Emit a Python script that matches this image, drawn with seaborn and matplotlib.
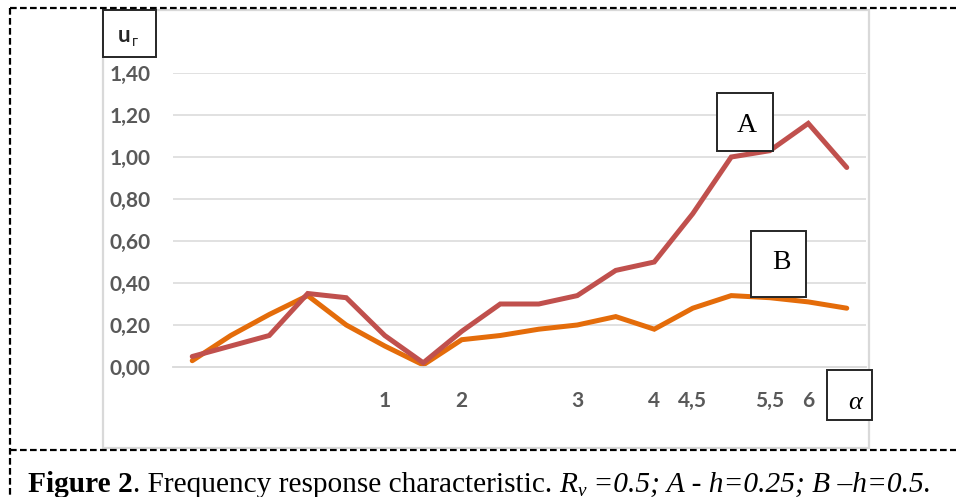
import matplotlib
matplotlib.use("Agg")
import matplotlib.pyplot as plt
from matplotlib.patches import Rectangle
from matplotlib.lines import Line2D
import seaborn as sns
import pandas as pd

# ---- data ----
x_labels = ['', '', '', '', '', '1', '', '2', '', '', '3', '', '4', '4,5', '', '5,5', '6', '']
series_a = [0.05, 0.10, 0.15, 0.35, 0.33, 0.15, 0.02, 0.17, 0.30, 0.30, 0.34, 0.46, 0.50, 0.73, 1.00, 1.03, 1.16, 0.95]
series_b = [0.03, 0.15, 0.25, 0.34, 0.20, 0.10, 0.01, 0.13, 0.15, 0.18, 0.20, 0.24, 0.18, 0.28, 0.34, 0.33, 0.31, 0.28]
y_ticks = [0.0, 0.2, 0.4, 0.6, 0.8, 1.0, 1.2, 1.4]
y_tick_labels = ['0,00', '0,20', '0,40', '0,60', '0,80', '1,00', '1,20', '1,40']
series_names = ['B', 'A']
colors = {'A': '#C0504D', 'B': '#E46C0A'}

sns.set_theme(style="white")
plt.rcParams['font.family'] = ['Lato', 'DejaVu Sans']

W, H = 956, 497
fig = plt.figure(figsize=(W / 100, H / 100), dpi=100)


def fx(x):
    return x / W


def fy(y):
    return 1 - y / H


# chart area frame (gray), drawn below the axes
fig.patches.append(Rectangle((fx(103), fy(448)), fx(869) - fx(103), fy(10) - fy(448),
                             transform=fig.transFigure, facecolor='white',
                             edgecolor='#D9D9D9', lw=1.6, zorder=-5))

ax = fig.add_axes([fx(173), fy(367), fx(866) - fx(173), fy(73) - fy(367)])
ax.set_facecolor('none')

n = len(x_labels)
df = pd.DataFrame({
    'x': list(range(n)) * 2,
    'u': series_b + series_a,
    'series': ['B'] * n + ['A'] * n,
})
sns.lineplot(data=df, x='x', y='u', hue='series', hue_order=series_names,
             palette=colors, linewidth=3.6, legend=False, ax=ax,
             solid_capstyle='round', solid_joinstyle='miter')
for ln in ax.lines:
    ln.set_clip_on(False)

ax.set_xlim(-0.5, n - 0.5)
ax.set_ylim(0, 1.4)
ax.set_yticks(y_ticks)
ax.set_yticklabels(y_tick_labels)
ax.set_xticks(range(n))
ax.set_xticklabels(x_labels)
ax.set_xticks([i - 0.5 for i in range(n + 1)], minor=True)
ax.tick_params(axis='x', which='major', length=0, pad=17, labelsize=15,
               labelcolor='#595959')
ax.tick_params(axis='x', which='minor', length=6, width=1.3, color='#D9D9D9', direction='out')
ax.tick_params(axis='y', length=0, pad=16, labelsize=15, labelcolor='#595959')
for lab in ax.get_xticklabels() + ax.get_yticklabels():
    lab.set_fontweight('bold')
ax.set_xlabel('')
ax.set_ylabel('')
for s in ['top', 'right', 'left']:
    ax.spines[s].set_visible(False)
ax.spines['bottom'].set_color('#D9D9D9')
ax.spines['bottom'].set_linewidth(1.3)
ax.yaxis.grid(True, color='#D9D9D9', lw=1.1)
ax.set_axisbelow(True)
ax.yaxis.get_gridlines()[0].set_visible(False)


def box(x0, y0, x1, y1):
    fig.patches.append(Rectangle((fx(x0), fy(y1)), fx(x1) - fx(x0), fy(y0) - fy(y1),
                                 transform=fig.transFigure, facecolor='white',
                                 edgecolor='#262626', lw=1.4, zorder=5))


serif = ['Liberation Serif', 'DejaVu Serif']

# u_r label box
box(103, 10, 156, 57)
fig.text(fx(124), fy(42), 'u', ha='center', va='baseline', fontsize=16,
         fontweight='bold', color='#262626', zorder=6)
fig.text(fx(132), fy(46), 'г', ha='left', va='baseline', fontsize=10.5,
         color='#262626', zorder=6, family=['Lato', 'DejaVu Sans'])

# A and B boxes
box(717, 93, 773, 151)
fig.text(fx(747), fy(132), 'A', ha='center', va='baseline', fontsize=20,
         family=serif, color='black', zorder=6)
box(751, 231, 806, 297)
fig.text(fx(781), fy(269), 'B', ha='center', va='baseline', fontsize=20,
         family=serif, color='black', zorder=6)

# alpha box
box(827, 370, 872, 420)
fig.text(fx(855), fy(409), 'α', ha='center', va='baseline', fontsize=19,
         family=serif, style='italic', color='black', zorder=6)

# dashed frame lines
dash = dict(color='black', lw=1.6, linestyle=(0, (3, 1.5)), transform=fig.transFigure, zorder=7)
fig.lines.append(Line2D([fx(10), fx(956)], [fy(8), fy(8)], **dash))
fig.lines.append(Line2D([fx(10), fx(10)], [fy(8), fy(497)], **dash))
fig.lines.append(Line2D([fx(10), fx(956)], [fy(450), fy(450)], **dash))

# caption (pieces chained)
renderer = fig.canvas.get_renderer()
pieces = [
    ('Figure 2', dict(fontweight='bold')),
    ('. Frequency response characteristic. ', dict()),
    ('R', dict(style='italic')),
    ('v', dict(style='italic', sub=True)),
    (' =0.5; A - h=0.25; B –h=0.5.', dict(style='italic')),
]
fs = 21.2
x = 28
base = 492
for txt, kw in pieces:
    kw = dict(kw)
    sub = kw.pop('sub', False)
    size = fs * 0.65 if sub else fs
    yb = base + 4 if sub else base
    t = fig.text(fx(x), fy(yb), txt, ha='left', va='baseline', fontsize=size,
                 family=serif, color='black', **kw)
    bb = t.get_window_extent(renderer=renderer)
    x = x + bb.width

fig.savefig('out.png', dpi=100)
